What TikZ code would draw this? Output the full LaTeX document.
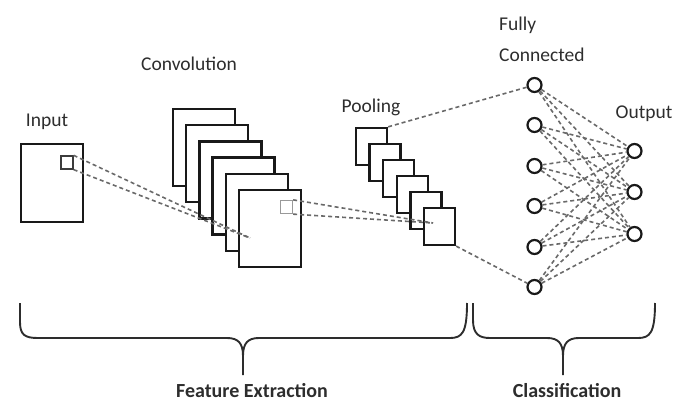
\documentclass[tikz,border=0pt]{standalone}
\usepackage{fontspec}
\setmainfont{Carlito}
\usepackage{tikz}
\definecolor{boxline}{RGB}{25,25,25}
\definecolor{dashgray}{RGB}{105,105,105}
\definecolor{labelgray}{RGB}{45,45,45}

\begin{document}
\begin{tikzpicture}[x=1pt, y=-1pt,
    fmap/.style={draw=boxline, line width=2.3pt, fill=white, minimum width=62pt, minimum height=77pt, inner sep=0pt},
    pmap/.style={draw=boxline, line width=2.3pt, fill=white, minimum width=31pt, minimum height=37pt, inner sep=0pt},
    window/.style={line width=1.3pt, fill=white, minimum width=12pt, minimum height=13pt, inner sep=0pt},
    neuron/.style={draw=boxline, circle, line width=2.2pt, minimum size=14pt, inner sep=0pt, fill=white},
    link/.style={draw=dashgray, dash pattern=on 4pt off 3pt, line width=1.6pt},
    caption/.style={text=labelgray, font=\fontsize{19.5}{31}\selectfont, anchor=base, inner sep=0pt},
    brace/.style={draw=labelgray, line width=1.9pt}
]
\useasboundingbox (0,0) rectangle (688,401);

\node[fmap, minimum height=78pt] (input) at (52,183) {};
\node[window, draw=boxline!85] (inwin) at (67,162.5) {};

\foreach \i in {1,...,6}
    \node[fmap] (conv\i) at ({204+13.2*(\i-1)}, {147.5+16.2*(\i-1)}) {};
\node[window, draw=gray!80] (convwin) at (286.5,207) {};

\foreach \i in {1,...,6}
    \node[pmap] (pool\i) at ({371.5+13.6*(\i-1)}, {146.5+16*(\i-1)}) {};

\foreach \i/\y in {1/85,2/125,3/166,4/206,5/247,6/287}
    \node[neuron] (fc\i) at (534.5,\y) {};
\foreach \i/\y in {1/151,2/192,3/234}
    \node[neuron] (out\i) at (634.5,\y) {};

\coordinate (convtip) at (250,238);
\coordinate (pooltip) at (433,223);

\draw[link] (inwin.north east) -- (convtip);
\draw[link] (inwin.south east) -- (convtip);
\draw[link] (convwin.north east) -- (pooltip);
\draw[link] (convwin.south east) -- (pooltip);
\draw[link] (pool1.north east) -- (fc1);
\draw[link] (pool6.south east) -- (fc6);
\foreach \i in {1,...,6}
    \foreach \j in {1,2,3}
        \draw[link] (fc\i) -- (out\j);

\node[caption] (inputlabel) at (47,127) {Input};
\node[caption] (convlabel) at (189,71) {Convolution};
\node[caption] (poollabel) at (371,113) {Pooling};
\node[caption, anchor=north west, align=left] (fclabel) at (499,17) {Fully\\Connected};
\node[caption] (outlabel) at (644,119) {Output};

% braces under the two stages
\draw[brace] (20,303) -- (20,322) .. controls (20,335) and (25,338) .. (38,338)
    -- (227,338) .. controls (238,338) and (243,343) .. (243,356) -- (243,375)
    (243,356) .. controls (243,343) and (248,338) .. (259,338)
    -- (450,338) .. controls (462,338) and (467,333) .. (467,303);
\draw[brace] (473,303) -- (473,320) .. controls (473,334) and (479,338) .. (490,338)
    -- (547,338) .. controls (558,338) and (563,343) .. (563,356) -- (563,375)
    (563,356) .. controls (563,343) and (568,338) .. (579,338)
    -- (638,338) .. controls (650,338) and (655,333) .. (655,303);

\node[caption, font=\fontsize{20}{24}\selectfont\bfseries] (featlabel) at (252,397) {Feature Extraction};
\node[caption, font=\fontsize{20}{24}\selectfont\bfseries] (classlabel) at (567,397) {Classification};

\end{tikzpicture}
\end{document}
